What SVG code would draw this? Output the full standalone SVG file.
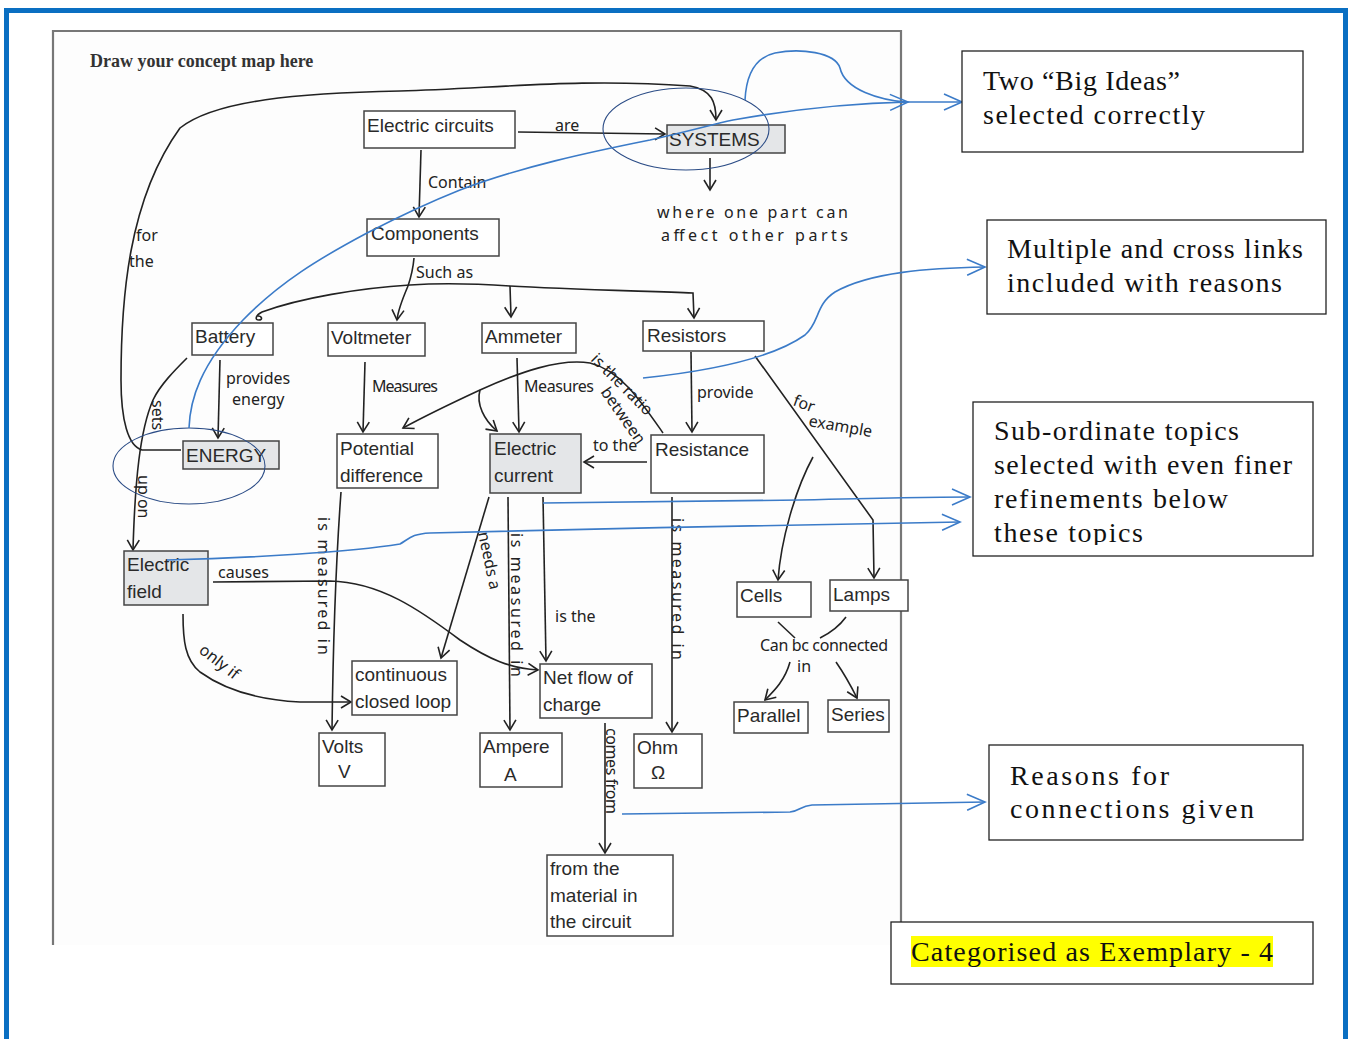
<svg xmlns="http://www.w3.org/2000/svg" width="1356" height="1039" viewBox="0 0 1356 1039">
<style>
.box{fill:#fff;stroke:#444;stroke-width:1.5}
.grey{fill:#e4e6e8}
.nt{font-family:"Liberation Sans",Arial,sans-serif;font-size:19px;fill:#2a2a2a}
.hw{font-family:"Noto Sans",sans-serif;font-size:16px;fill:#222}
.ln{fill:none;stroke:#222;stroke-width:1.6}
.bl{fill:none;stroke:#3b7bc8;stroke-width:1.6}
.ell{fill:none;stroke:#2b4c86;stroke-width:1.1}
.ab{font-family:"Liberation Serif","Times New Roman",serif;font-size:28px;fill:#111}
.abox{fill:#fff;stroke:#222;stroke-width:1.3}
</style>
<defs>
<marker id="ah" viewBox="-12 -8 14 16" markerWidth="14" markerHeight="16" refX="0" refY="0" orient="auto" markerUnits="userSpaceOnUse"><path d="M-10,-6 L0,0 L-10,6" fill="none" stroke="#222" stroke-width="1.6"/></marker>
<marker id="abl" viewBox="-20 -10 22 20" markerWidth="22" markerHeight="20" refX="0" refY="0" orient="auto" markerUnits="userSpaceOnUse"><path d="M-18,-8 L0,0 L-18,8" fill="none" stroke="#3b7bc8" stroke-width="1.6"/></marker>
<clipPath id="clip3"><rect x="973" y="402" width="340" height="143"/></clipPath>
</defs>
<rect x="0" y="0" width="1356" height="1039" fill="#fff"/>
<path d="M6.5,1039 V10.5 H1345.5 V1039" fill="none" stroke="#0a6fc2" stroke-width="5"/>
<g id="page">
<rect x="53" y="31" width="848" height="914" fill="#fdfdfd"/>
<path d="M53,945 V31 H901 V945" fill="none" stroke="#777" stroke-width="2.2"/>
<text x="90" y="67" font-family="Liberation Serif,serif" font-weight="bold" font-size="18" fill="#333">Draw your concept map here</text>
</g>
<g id="connectors">
<path class="ln" marker-end="url(#ah)" d="M181,450 L142,450 C128,446 121,420 121,380 C121,300 128,200 180,128 C215,100 300,93 400,91 C500,88 580,78 690,86 C712,90 716,102 716,120"/>
<path class="ln" marker-end="url(#ah)" d="M518,132 L665,134"/>
<path class="ln" marker-end="url(#ah)" d="M421,150 L419,217"/>
<path class="ln" marker-end="url(#ah)" d="M710,158 L710,190"/>
<path class="ln" d="M414,258 C413,270 410,280 408,286"/>
<path class="ln" marker-end="url(#ah)" d="M408,286 C402,300 398,310 397,320"/>
<path class="ln" d="M410,285 C360,288 300,298 262,312 C256,315 254,320 259,320 C263,320 262,316 258,316"/>
<path class="ln" marker-end="url(#ah)" d="M410,285 C440,283 480,284 510,286 C560,289 640,291 693,293 L694,318"/>
<path class="ln" marker-end="url(#ah)" d="M510,286 L511,317"/>
<path class="ln" marker-end="url(#ah)" d="M220,360 L218,438"/>
<path class="ln" marker-end="url(#ah)" d="M365,362 L363,432"/>
<path class="ln" marker-end="url(#ah)" d="M517,358 L519,432"/>
<path class="ln" marker-end="url(#ah)" d="M663,433 C640,400 620,370 590,363 C560,358 520,372 480,390 C452,403 425,416 403,428"/>
<path class="ln" marker-end="url(#ah)" d="M480,390 C476,404 484,420 497,431"/>
<path class="ln" marker-end="url(#ah)" d="M691,352 L692,432"/>
<path class="ln" marker-end="url(#ah)" d="M647,462 L584,462"/>
<path class="ln" marker-end="url(#ah)" d="M755,356 L873,520 L874,578"/>
<path class="ln" marker-end="url(#ah)" d="M813,457 C795,490 781,540 778,580"/>
<path class="ln" marker-end="url(#ah)" d="M489,497 L441,658"/>
<path class="ln" marker-end="url(#ah)" d="M508,497 L510,730"/>
<path class="ln" marker-end="url(#ah)" d="M543,497 L546,661"/>
<path class="ln" marker-end="url(#ah)" d="M672,497 L672,732"/>
<path class="ln" marker-end="url(#ah)" d="M341,492 C336,560 333,650 332,730"/>
<path class="ln" marker-end="url(#ah)" d="M213,582 L330,581 C380,582 420,610 460,640 C490,660 510,668 538,670"/>
<path class="ln" marker-end="url(#ah)" d="M183,614 C183,640 185,660 200,672 C225,690 260,700 300,702 L351,702"/>
<path class="ln" marker-end="url(#ah)" d="M187,358 C175,370 160,385 153,400 C140,430 135,480 133,550"/>
<path class="ln" marker-end="url(#ah)" d="M605,723 L605,853"/>
<path class="ln" d="M778,622 L795,638"/>
<path class="ln" d="M846,617 C838,628 830,633 820,638"/>
<path class="ln" marker-end="url(#ah)" d="M790,662 C785,680 775,690 765,700"/>
<path class="ln" marker-end="url(#ah)" d="M836,662 C845,675 852,688 857,698"/>
</g>
<g id="labels">
<text class="hw" x="136" y="241" font-size="20">for</text>
<text class="hw" x="129" y="267" font-size="20">the</text>
<text class="hw" x="555" y="131" font-size="19">are</text>
<text class="hw" x="428" y="188">Contain</text>
<text class="hw" x="416" y="278">Such as</text>
<text class="hw" x="657" y="218" font-size="17" textLength="191">where one part can</text>
<text class="hw" x="661" y="241" font-size="17" textLength="187">affect other parts</text>
<text class="hw" x="226" y="384">provides</text>
<text class="hw" x="232" y="405">energy</text>
<text class="hw" x="372" y="392" textLength="66">Measures</text>
<text class="hw" x="524" y="392" textLength="70">Measures</text>
<text class="hw" font-size="15" transform="translate(590,360) rotate(45)">is the ratio</text>
<text class="hw" font-size="15" transform="translate(600,392) rotate(55)">between</text>
<text class="hw" x="697" y="398">provide</text>
<text class="hw" x="593" y="451">to the</text>
<text class="hw" transform="translate(792,405) rotate(20)">for</text>
<text class="hw" transform="translate(808,426) rotate(10)">example</text>
<text class="hw" x="760" y="651" font-size="14" textLength="128">Can bc connected</text>
<text class="hw" x="797" y="672" font-size="14">in</text>
<text class="hw" transform="translate(152,400) rotate(90)" font-size="18">sets</text>
<text class="hw" transform="translate(138,475) rotate(90)" font-size="18">up on</text>
<text class="hw" x="218" y="578" font-size="22">causes</text>
<text class="hw" transform="translate(198,652) rotate(38)" font-size="22">only if</text>
<text class="hw" transform="translate(318,517) rotate(90)" textLength="138">is measured in</text>
<text class="hw" transform="translate(478,533) rotate(78)">needs a</text>
<text class="hw" transform="translate(511,533) rotate(90)" textLength="144">is measured in</text>
<text class="hw" x="555" y="622">is the</text>
<text class="hw" transform="translate(672,518) rotate(90)" textLength="142">is measured in</text>
<text class="hw" transform="translate(606,728) rotate(90)" textLength="86">comes from</text>
</g>
<g id="n-electric-circuits"><rect class="box" x="364" y="111" width="151" height="37"/><text class="nt" x="367" y="132">Electric circuits</text></g>
<g id="n-systems"><rect class="box grey" x="667" y="125" width="118" height="28"/><text class="nt" x="669" y="146">SYSTEMS</text></g>
<g id="n-components"><rect class="box" x="367" y="219" width="132" height="37"/><text class="nt" x="371" y="240">Components</text></g>
<g id="n-battery"><rect class="box" x="192" y="323" width="81" height="32"/><text class="nt" x="195" y="343">Battery</text></g>
<g id="n-voltmeter"><rect class="box" x="328" y="323" width="97" height="33"/><text class="nt" x="331" y="344">Voltmeter</text></g>
<g id="n-ammeter"><rect class="box" x="482" y="323" width="94" height="30"/><text class="nt" x="485" y="343">Ammeter</text></g>
<g id="n-resistors"><rect class="box" x="643" y="321" width="121" height="30"/><text class="nt" x="647" y="342">Resistors</text></g>
<g id="n-energy"><rect class="box grey" x="183" y="441" width="96" height="28"/><text class="nt" x="186" y="462">ENERGY</text></g>
<g id="n-potential-difference"><rect class="box" x="337" y="434" width="101" height="54"/><text class="nt" x="340" y="455">Potential</text><text class="nt" x="340" y="482">difference</text></g>
<g id="n-electric-current"><rect class="box grey" x="490" y="434" width="91" height="59"/><text class="nt" x="494" y="455">Electric</text><text class="nt" x="494" y="482">current</text></g>
<g id="n-resistance"><rect class="box" x="651" y="435" width="113" height="58"/><text class="nt" x="655" y="456">Resistance</text></g>
<g id="n-electric-field"><rect class="box grey" x="124" y="551" width="84" height="54"/><text class="nt" x="127" y="571">Electric</text><text class="nt" x="127" y="598">field</text></g>
<g id="n-cells"><rect class="box" x="737" y="582" width="74" height="35"/><text class="nt" x="740" y="602">Cells</text></g>
<g id="n-lamps"><rect class="box" x="830" y="580" width="78" height="31"/><text class="nt" x="833" y="601">Lamps</text></g>
<g id="n-closed-loop"><rect class="box" x="352" y="661" width="105" height="54"/><text class="nt" x="355" y="681">continuous</text><text class="nt" x="355" y="708">closed loop</text></g>
<g id="n-net-flow"><rect class="box" x="540" y="664" width="112" height="54"/><text class="nt" x="543" y="684">Net flow of</text><text class="nt" x="543" y="711">charge</text></g>
<g id="n-parallel"><rect class="box" x="734" y="702" width="74" height="31"/><text class="nt" x="737" y="722">Parallel</text></g>
<g id="n-series"><rect class="box" x="828" y="700" width="61" height="32"/><text class="nt" x="831" y="721">Series</text></g>
<g id="n-volts"><rect class="box" x="319" y="733" width="66" height="53"/><text class="nt" x="322" y="753">Volts</text><text class="nt" x="338" y="778">V</text></g>
<g id="n-ampere"><rect class="box" x="480" y="733" width="82" height="54"/><text class="nt" x="483" y="753">Ampere</text><text class="nt" x="504" y="781" font-size="22">A</text></g>
<g id="n-ohm"><rect class="box" x="634" y="734" width="68" height="54"/><text class="nt" x="637" y="754">Ohm</text><text class="nt" x="651" y="779">Ω</text></g>
<g id="n-material"><rect class="box" x="547" y="855" width="126" height="81"/><text class="nt" x="550" y="875">from the</text><text class="nt" x="550" y="902">material in</text><text class="nt" x="550" y="928">the circuit</text></g>
<g id="annotations-blue">
<ellipse class="ell" cx="686" cy="129" rx="83" ry="41"/>
<ellipse class="ell" cx="189" cy="466" rx="76" ry="38"/>
<path class="bl" marker-end="url(#abl)" d="M189,428 C190,400 200,365 243,320 C280,282 320,258 367,233 C400,216 430,202 460,190 C520,167 590,152 650,140 C690,131 710,125 733,120 C800,108 860,103 908,102"/>
<path class="bl" d="M745,100 C746,80 752,58 775,53 C800,48 835,52 840,68 C845,90 880,100 906,102"/>
<path class="bl" marker-end="url(#abl)" d="M908,102 L962,102"/>
<path class="bl" marker-end="url(#abl)" d="M643,378 C700,372 770,360 805,335 C820,322 815,305 835,292 C870,272 930,268 985,267"/>
<path class="bl" marker-end="url(#abl)" d="M167,560 C250,558 350,552 400,544 C410,538 412,534 430,533 C600,529 800,524 960,522"/>
<path class="bl" marker-end="url(#abl)" d="M543,503 C600,502 700,501 800,500 C880,498 930,497 970,497"/>
<path class="bl" marker-end="url(#abl)" d="M622,814 L790,812 C800,811 800,806 812,805 L985,802"/>
</g>
<g id="box-big-ideas"><rect class="abox" x="962" y="51" width="341" height="101"/><text class="ab" x="983" y="90" textLength="197">Two “Big Ideas”</text><text class="ab" x="983" y="124" textLength="222">selected correctly</text></g>
<g id="box-cross-links"><rect class="abox" x="987" y="220" width="339" height="94"/><text class="ab" x="1007" y="258" textLength="296">Multiple and cross links</text><text class="ab" x="1007" y="292" textLength="275">included with reasons</text></g>
<g id="box-subordinate"><rect class="abox" x="973" y="402" width="340" height="154"/><g clip-path="url(#clip3)"><text class="ab" x="994" y="440" textLength="245">Sub-ordinate topics</text><text class="ab" x="994" y="474" textLength="298">selected with even finer</text><text class="ab" x="994" y="508" textLength="234">refinements below</text><text class="ab" x="994" y="542" textLength="149">these topics</text></g></g>
<g id="box-reasons"><rect class="abox" x="989" y="745" width="314" height="95"/><text class="ab" x="1010" y="785" textLength="159">Reasons for</text><text class="ab" x="1010" y="818" textLength="244">connections given</text></g>
<g id="box-category"><rect class="abox" x="891" y="922" width="422" height="62"/><rect x="911" y="936" width="362" height="31" fill="#ffff00"/><text class="ab" x="911" y="961" textLength="362">Categorised as Exemplary - 4</text></g>
</svg>
